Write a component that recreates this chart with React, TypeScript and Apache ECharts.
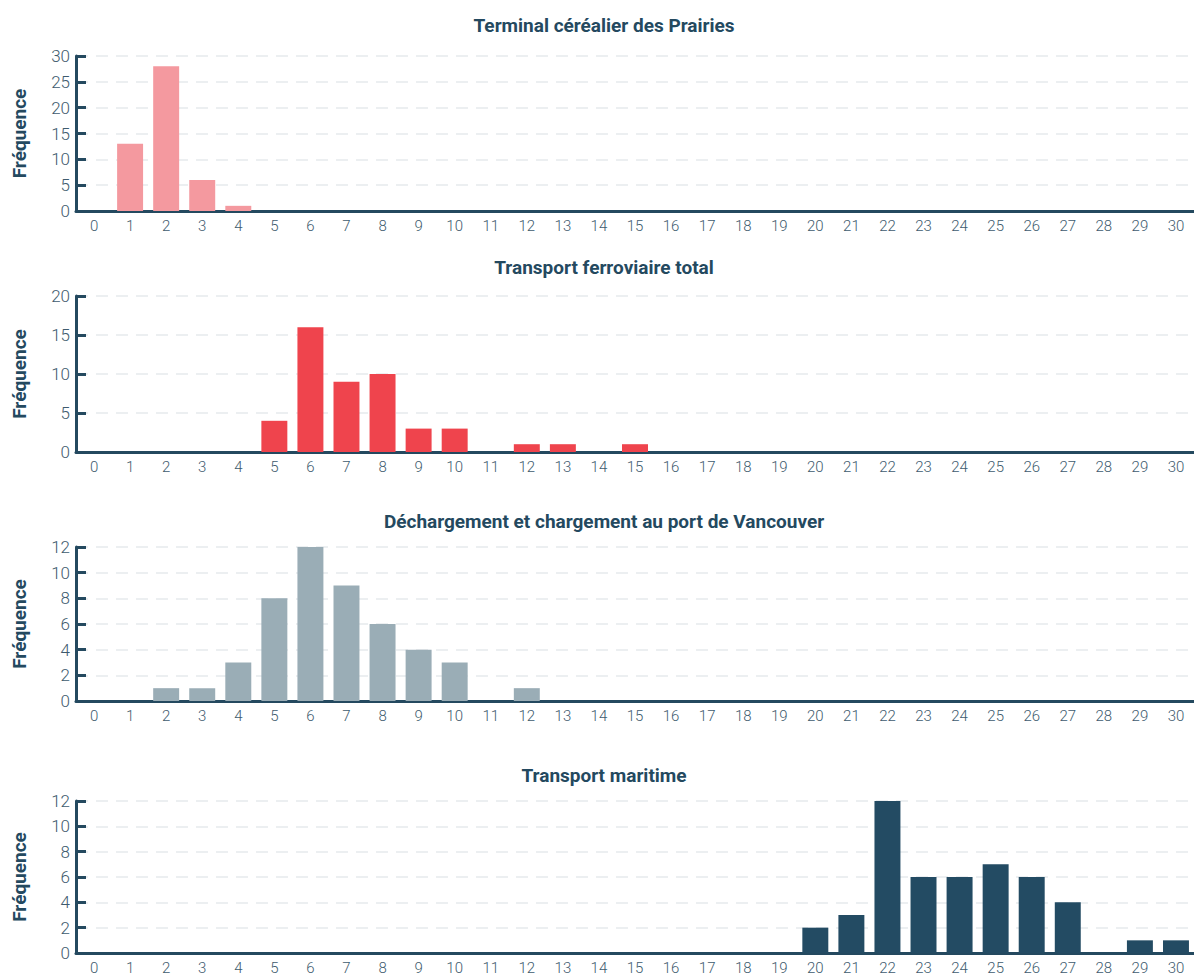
import React, { useEffect, useRef } from "react";
import * as echarts from "echarts";

const categories = Array.from({ length: 31 }, (_, i) => String(i));

const titles = [
  "Terminal céréalier des Prairies",
  "Transport ferroviaire total",
  "Déchargement et chargement au port de Vancouver",
  "Transport maritime",
];

const prairiesValues = [0, 13, 28, 6, 1, 0, 0, 0, 0, 0, 0, 0, 0, 0, 0, 0, 0, 0, 0, 0, 0, 0, 0, 0, 0, 0, 0, 0, 0, 0, 0];
const railValues = [0, 0, 0, 0, 0, 4, 16, 9, 10, 3, 3, 0, 1, 1, 0, 1, 0, 0, 0, 0, 0, 0, 0, 0, 0, 0, 0, 0, 0, 0, 0];
const portValues = [0, 0, 1, 1, 3, 8, 12, 9, 6, 4, 3, 0, 1, 0, 0, 0, 0, 0, 0, 0, 0, 0, 0, 0, 0, 0, 0, 0, 0, 0, 0];
const maritimeValues = [0, 0, 0, 0, 0, 0, 0, 0, 0, 0, 0, 0, 0, 0, 0, 0, 0, 0, 0, 0, 2, 3, 12, 6, 6, 7, 6, 4, 0, 1, 1];

const yMax = [30, 20, 12, 12];
const yInterval = [5, 5, 2, 2];
const colors = ["#F4999F", "#EF444D", "#9AADB6", "#234B63"];

const gridTops = [56, 296, 547, 801];
const gridHeights = [155, 156, 154, 155];
const titleYs = [25, 267, 521, 775];

const AXIS = "#24495F";
const LABEL = "#3E5B6E";
const FONT = "Roboto, 'Noto Sans', sans-serif";

export default function App() {
  const ref = useRef<HTMLDivElement>(null);
  useEffect(() => {
    if (!ref.current) return;
    const chart = echarts.init(ref.current, undefined, { renderer: "svg" });
    const values = [prairiesValues, railValues, portValues, maritimeValues];
    const grids = gridTops.map((t, i) => ({
      left: 76,
      right: -4,
      top: t,
      height: gridHeights[i],
    }));
    const xAxes = values.map((_, i) => ({
      type: "category",
      gridIndex: i,
      data: categories,
      axisLine: { lineStyle: { color: AXIS, width: 3 } },
      axisTick: { show: false },
      axisLabel: { color: LABEL, fontSize: 15, fontWeight: 300, fontFamily: FONT, margin: 7, interval: 0 },
    }));
    const yAxes = values.map((_, i) => ({
      type: "value",
      gridIndex: i,
      min: 0,
      max: yMax[i],
      interval: yInterval[i],
      name: "Fréquence",
      nameLocation: "middle",
      nameGap: 47,
      nameTextStyle: { color: AXIS, fontSize: 19, fontWeight: "bold", fontFamily: FONT },
      axisLine: { show: true, lineStyle: { color: AXIS, width: 3 } },
      axisTick: { show: true, inside: true, length: 10, lineStyle: { color: AXIS, width: 3 } },
      axisLabel: { color: LABEL, fontSize: 17, fontWeight: 300, fontFamily: FONT, margin: 6 },
      splitLine: { show: true, lineStyle: { color: "#E6EAED", width: 1.5, type: [12, 8] } },
    }));
    const series = values.map((v, i) => ({
      type: "bar",
      xAxisIndex: i,
      yAxisIndex: i,
      data: v,
      barCategoryGap: "28%",
      itemStyle: { color: colors[i] },
    }));
    const graphics = titles.map((t, i) => ({
      type: "text",
      x: 604,
      y: titleYs[i],
      style: {
        text: t,
        fill: AXIS,
        font: `bold 19px ${FONT}`,
        textAlign: "center",
        textVerticalAlign: "middle",
      },
    }));
    chart.setOption({
      animation: false,
      backgroundColor: "#ffffff",
      grid: grids,
      xAxis: xAxes,
      yAxis: yAxes,
      series,
      graphic: graphics,
    });
    return () => chart.dispose();
  }, []);
  return (
    <div
      ref={ref}
      style={{ position: "fixed", left: 0, top: 0, width: 1194, height: 975 }}
    />
  );
}
